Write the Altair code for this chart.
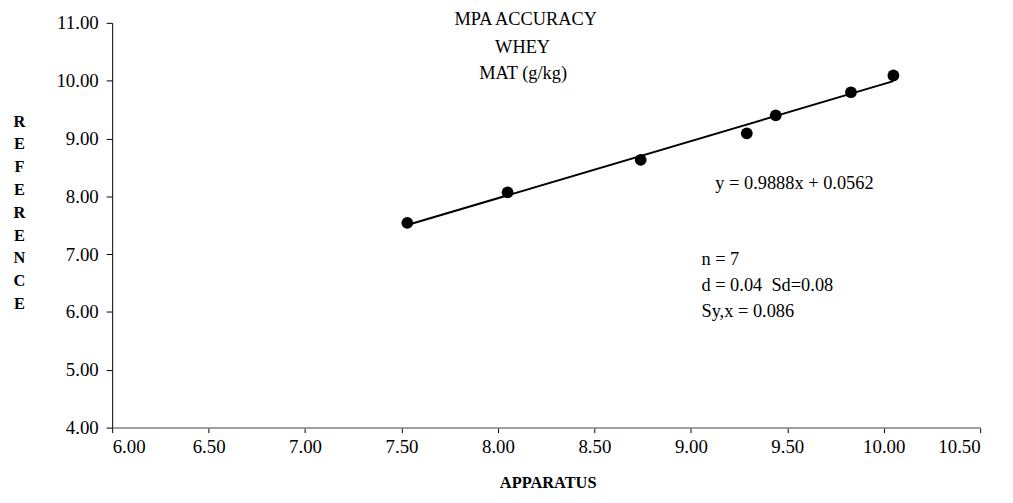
import altair as alt
import pandas as pd

# ---- data ----
apparatus = [7.53, 8.05, 8.74, 9.29, 9.44, 9.83, 10.05]
reference = [7.54, 8.07, 8.63, 9.09, 9.40, 9.80, 10.09]
x_ticks = [6.0, 6.5, 7.0, 7.5, 8.0, 8.5, 9.0, 9.5, 10.0, 10.5]
y_ticks = [4.0, 5.0, 6.0, 7.0, 8.0, 9.0, 10.0, 11.0]
title_lines = ["MPA ACCURACY", "WHEY", "MAT (g/kg)"]
equation_text = "y = 0.9888x + 0.0562"
stats_lines = ["n = 7", "d = 0.04\u00a0 Sd=0.08", "Sy,x = 0.086"]
x_title = "APPARATUS"
y_title = "REFERENCE"

df = pd.DataFrame({"apparatus": apparatus, "reference": reference})

FONT = "Liberation Serif"
FS = 18.5
TICK_FS = 19

x_enc = alt.X(
    "apparatus:Q",
    scale=alt.Scale(domain=[6.0, 10.5], nice=False, zero=False),
    axis=alt.Axis(
        values=x_ticks, format=".2f", title=x_title,
        domainColor="#808080", domainWidth=1.5,
        tickColor="black", tickSize=5, labelPadding=5,
        titleX=439, titleY=60, titleAlign="center", titleBaseline="alphabetic",
        titleFontWeight="bold", titleFontSize=16.5,
    ),
)
y_enc = alt.Y(
    "reference:Q",
    scale=alt.Scale(domain=[4.0, 11.0], nice=False, zero=False),
    axis=alt.Axis(
        values=y_ticks, format=".2f", title=list(y_title),
        domainColor="black", tickColor="black", tickSize=6, labelPadding=8,
        titleAngle=0, titleX=-94, titleY=91, titleAlign="center",
        titleBaseline="top", titleLineHeight=23,
        titleFontWeight="bold", titleFontSize=16.5,
    ),
)

base = alt.Chart(df)
points = base.mark_circle(size=140, color="black", opacity=1).encode(x=x_enc, y=y_enc)
fit = (
    base.transform_regression("apparatus", "reference")
    .mark_line(color="black", strokeWidth=2)
    .encode(x="apparatus:Q", y="reference:Q")
)


def label(txt, x, y):
    return (
        alt.Chart(pd.DataFrame({"t": [txt]}))
        .mark_text(align="left", baseline="alphabetic", font=FONT, fontSize=FS, color="black")
        .encode(text="t:N", x=alt.value(x), y=alt.value(y))
    )


texts = [
    label(title_lines[0], 345, 2),
    label(title_lines[1], 386, 30),
    label(title_lines[2], 370, 57),
    label(equation_text, 608, 167),
    label(stats_lines[0], 594, 244),
    label(stats_lines[1], 594, 270),
    label(stats_lines[2], 594, 296),
]

chart = (
    alt.layer(fit, points, *texts)
    .properties(
        width=875, height=408,
        autosize=alt.AutoSizeParams(type="none"),
        padding={"left": 105, "top": 13, "right": 25, "bottom": 74},
    )
    .configure_view(stroke=None)
    .configure_axis(
        grid=False, labelFont=FONT, labelFontSize=TICK_FS, labelColor="black",
        titleFont=FONT, titleColor="black", tickWidth=1,
    )
)

chart.save("out.html", embed_options={"renderer": "svg", "actions": False})
